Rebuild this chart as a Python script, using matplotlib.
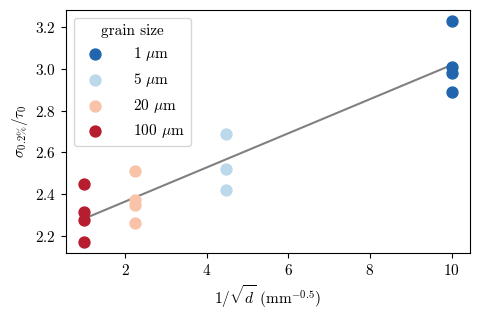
import matplotlib
matplotlib.use("Agg")
import matplotlib.pyplot as plt
import numpy as np

plt.rcParams['font.family'] = 'serif'
plt.rcParams['font.serif'] = ['cmr10']
plt.rcParams['mathtext.fontset'] = 'cm'
plt.rcParams['axes.formatter.use_mathtext'] = True
plt.rcParams['font.size'] = 11

# grain sizes (um) and measured normalised strengths
grain_sizes = [1, 5, 20, 100]
labels = [r'1 $\mu$m', r'5 $\mu$m', r'20 $\mu$m', r'100 $\mu$m']
colors = ['#2166ac', '#bcd9eb', '#f8c3a8', '#b71c2f']
strength = [
    [3.23, 3.01, 2.98, 2.89],
    [2.69, 2.52, 2.42],
    [2.51, 2.37, 2.35, 2.26],
    [2.45, 2.315, 2.275, 2.17],
]

fig, ax = plt.subplots(figsize=(4.81, 3.14), dpi=100)
fig.subplots_adjust(left=0.137, right=0.977, top=0.968, bottom=0.194)

all_x = []
all_y = []
for d, ys, c, lab in zip(grain_sizes, strength, colors, labels):
    x = np.full(len(ys), 10 / np.sqrt(d))
    ax.scatter(x, ys, color=c, s=62, label=lab, zorder=2)
    all_x.extend(x)
    all_y.extend(ys)

# linear fit through all points
k, b = np.polyfit(all_x, all_y, 1)
xl = np.array([min(all_x), max(all_x)])
ax.plot(xl, k * xl + b, color='gray', lw=1.5, zorder=1)

ax.set_xlabel(r'$1/\sqrt{d}$ (mm$^{-0.5}$)')
ax.set_ylabel(r'$\sigma_{0.2\%}/\tau_0$')
ax.legend(title='grain size', loc='upper left', handletextpad=1.5)

plt.savefig('out.png', dpi=100)
